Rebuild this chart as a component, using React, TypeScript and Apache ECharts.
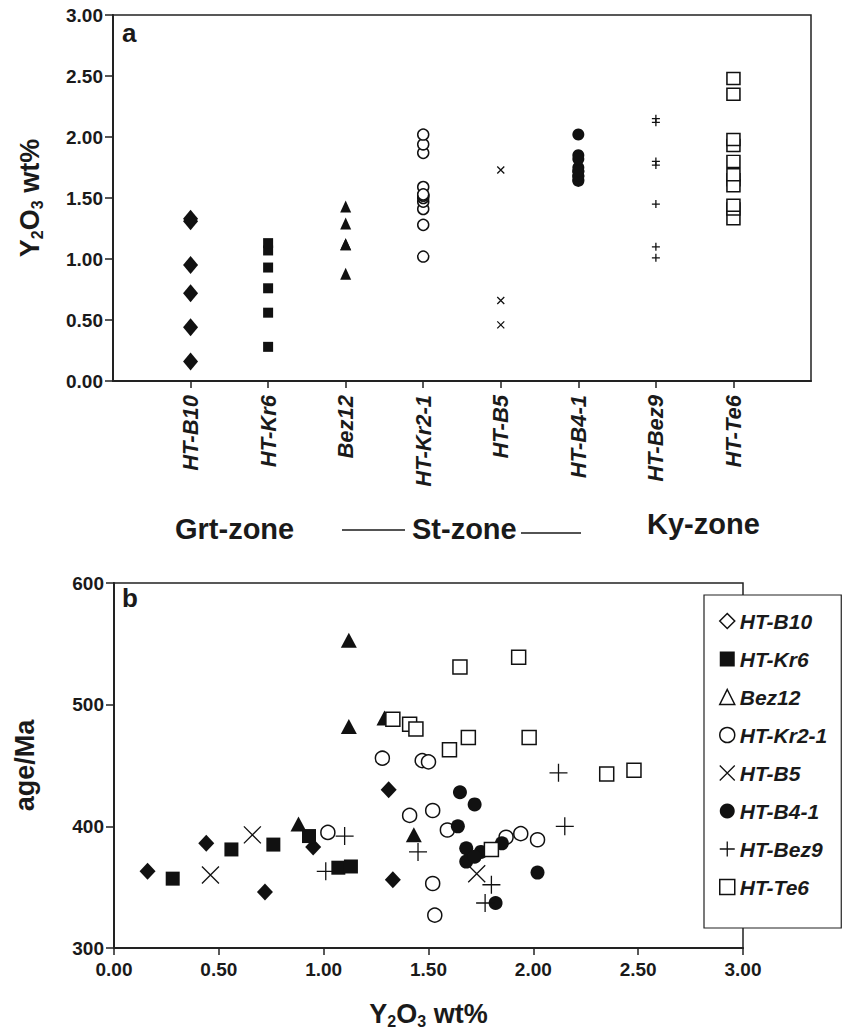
import React, { useEffect, useRef } from 'react';
import * as echarts from 'echarts';

const FONT = '"Liberation Sans", Arial, Helvetica, sans-serif';
const INK = '#1a1a1a';

const categories = ['HT-B10', 'HT-Kr6', 'Bez12', 'HT-Kr2-1', 'HT-B5', 'HT-B4-1', 'HT-Bez9', 'HT-Te6'];

// Y2O3 wt% and age (Ma) of each analysed grain, per sample
const b10Y2O3 = [0.16, 0.44, 0.72, 0.95, 1.31, 1.33];
const b10Age = [363, 386, 346, 383, 430, 356];

const kr6Y2O3 = [0.28, 0.56, 0.76, 0.93, 1.07, 1.13];
const kr6Age = [357, 381, 385, 392, 366, 367];

const bez12Y2O3 = [0.88, 1.12, 1.12, 1.29, 1.43];
const bez12Age = [402, 553, 482, 489, 393];

const kr21Y2O3 = [1.02, 1.28, 1.41, 1.47, 1.50, 1.52, 1.59, 1.52, 1.53, 1.87, 1.94, 2.02];
const kr21Age = [395, 456, 409, 454, 453, 413, 397, 353, 327, 391, 394, 389];

const b5Y2O3 = [0.46, 0.66, 1.73];
const b5Age = [360, 393, 361];

const b41Y2O3 = [1.65, 1.72, 1.64, 1.68, 1.75, 1.68, 1.72, 1.85, 2.02, 1.82];
const b41Age = [428, 418, 400, 382, 379, 371, 375, 386, 362, 337];

const bez9Y2O3 = [1.10, 1.01, 1.45, 1.80, 1.77, 2.15, 2.12];
const bez9Age = [392, 363, 379, 352, 337, 400, 444];

const te6Y2O3 = [1.33, 1.41, 1.44, 1.65, 1.93, 1.60, 1.69, 1.98, 2.35, 2.48, 1.80];
const te6Age = [488, 484, 480, 531, 539, 463, 473, 473, 443, 446, 381];

const X_PATH = 'path://M0,0L10,10M10,0L0,10';
const PLUS_PATH = 'path://M5,0L5,10M0,5L10,5';

const filled = { color: '#111', borderWidth: 0, opacity: 1 };
const open = { color: '#fff', borderColor: '#111', borderWidth: 1.5, opacity: 1 };
const stroke = { color: 'rgba(0,0,0,0)', borderColor: '#111', borderWidth: 1.3, opacity: 1 };

const samples = [
  { name: 'HT-B10', y: b10Y2O3, age: b10Age, symbol: 'diamond', style: filled, top: [15, 18], bot: [16, 17],
    legendIcon: 'diamond', legendStyle: open },
  { name: 'HT-Kr6', y: kr6Y2O3, age: kr6Age, symbol: 'rect', style: filled, top: [10, 10], bot: [14, 14],
    legendIcon: 'rect', legendStyle: filled },
  { name: 'Bez12', y: bez12Y2O3, age: bez12Age, symbol: 'triangle', style: filled, top: [11, 12], bot: [16, 15],
    legendIcon: 'triangle', legendStyle: open },
  { name: 'HT-Kr2-1', y: kr21Y2O3, age: kr21Age, symbol: 'circle', style: open, top: [11, 11], bot: [14, 14],
    legendIcon: 'circle', legendStyle: open },
  { name: 'HT-B5', y: b5Y2O3, age: b5Age, symbol: X_PATH, style: stroke, top: [7, 7], bot: [17, 17],
    legendIcon: X_PATH, legendStyle: stroke },
  { name: 'HT-B4-1', y: b41Y2O3, age: b41Age, symbol: 'circle', style: filled, top: [12, 12], bot: [14, 14],
    legendIcon: 'circle', legendStyle: filled },
  { name: 'HT-Bez9', y: bez9Y2O3, age: bez9Age, symbol: PLUS_PATH, style: stroke, top: [8, 8], bot: [18, 18],
    legendIcon: PLUS_PATH, legendStyle: stroke },
  { name: 'HT-Te6', y: te6Y2O3, age: te6Age, symbol: 'rect', style: open, top: [13, 12], bot: [14, 14],
    legendIcon: 'rect', legendStyle: open },
];

const tickLabel = { fontFamily: FONT, fontSize: 19, fontWeight: 'bold', color: INK };
const axisLine = { show: true, lineStyle: { color: '#222', width: 2 } };
const axisTick = { show: true, length: 7, lineStyle: { color: '#222', width: 1.5 } };

const richName = {
  a: { fontFamily: FONT, fontSize: 27, fontWeight: 'bold', color: INK, lineHeight: 30 },
  s: { fontFamily: FONT, fontSize: 16, fontWeight: 'bold', color: INK, lineHeight: 15, verticalAlign: 'bottom' },
};

function buildOption() {
  const topSeries = samples.map((s, i) => ({
    type: 'scatter',
    name: s.name,
    xAxisIndex: 0,
    yAxisIndex: 0,
    symbol: s.symbol,
    symbolSize: s.top,
    itemStyle: s.style,
    emphasis: { disabled: true },
    data: s.y.map((v) => [i + 1, v]),
  }));
  const botSeries = samples.map((s) => ({
    type: 'scatter',
    name: s.name,
    xAxisIndex: 1,
    yAxisIndex: 1,
    symbol: s.symbol,
    symbolSize: s.bot,
    itemStyle: s.style,
    emphasis: { disabled: true },
    data: s.y.map((v, k) => [v, s.age[k]]),
  }));

  return {
    animation: false,
    backgroundColor: '#fff',
    grid: [
      { left: 113, top: 15, width: 698, height: 366, show: true, borderColor: '#222', borderWidth: 1.5, backgroundColor: 'transparent' },
      { left: 114, top: 583, width: 629, height: 365, show: true, borderColor: '#222', borderWidth: 1.5, backgroundColor: 'transparent' },
    ],
    xAxis: [
      {
        type: 'category',
        gridIndex: 0,
        data: ['', ...categories, ''],
        boundaryGap: false,
        axisLine,
        axisTick: { ...axisTick, interval: (i: number) => i > 0 && i < categories.length + 1 },
        axisLabel: {
          interval: 0,
          rotate: 90,
          margin: 14,
          fontFamily: FONT,
          fontSize: 22,
          fontWeight: 'bold',
          fontStyle: 'italic',
          color: INK,
        },
        splitLine: { show: false },
      },
      {
        type: 'value',
        gridIndex: 1,
        min: 0,
        max: 3,
        interval: 0.5,
        axisLine,
        axisTick,
        axisLabel: { ...tickLabel, margin: 12, formatter: (v: number) => v.toFixed(2) },
        splitLine: { show: false },
        name: '{a|Y}{s|2}{a|O}{s|3}{a| wt%}',
        nameLocation: 'middle',
        nameGap: 51,
        nameTextStyle: { rich: richName },
      },
    ],
    yAxis: [
      {
        type: 'value',
        gridIndex: 0,
        min: 0,
        max: 3,
        interval: 0.5,
        axisLine,
        axisTick: { ...axisTick, length: 8 },
        axisLabel: { ...tickLabel, margin: 10, formatter: (v: number) => v.toFixed(2) },
        splitLine: { show: false },
        name: '{a|Y}{s|2}{a|O}{s|3}{a| wt%}',
        nameLocation: 'middle',
        nameRotate: 90,
        nameGap: 68,
        nameTextStyle: { rich: richName },
      },
      {
        type: 'value',
        gridIndex: 1,
        min: 300,
        max: 600,
        interval: 100,
        axisLine,
        axisTick: { ...axisTick, length: 8 },
        axisLabel: { ...tickLabel, margin: 10 },
        splitLine: { show: false },
        name: 'age/Ma',
        nameLocation: 'middle',
        nameRotate: 90,
        nameGap: 76,
        nameTextStyle: { fontFamily: FONT, fontSize: 27, fontWeight: 'bold', color: INK },
      },
    ],
    legend: {
      orient: 'vertical',
      left: 704,
      top: 595,
      padding: [15, 14, 30, 15],
      itemGap: 16,
      itemWidth: 15,
      itemHeight: 15,
      selectedMode: false,
      backgroundColor: '#fff',
      borderColor: '#222',
      borderWidth: 1.2,
      textStyle: { fontFamily: FONT, fontSize: 21, fontWeight: 'bold', fontStyle: 'italic', color: INK, lineHeight: 22 },
      data: samples.map((s) => ({ name: s.name, icon: s.legendIcon, itemStyle: s.legendStyle })),
    },
    graphic: [
      { type: 'text', x: 122, y: 33, style: { text: 'a', fill: INK, fontFamily: FONT, fontSize: 26, fontWeight: 'bold', textVerticalAlign: 'middle' } },
      { type: 'text', x: 122, y: 598, style: { text: 'b', fill: INK, fontFamily: FONT, fontSize: 26, fontWeight: 'bold', textVerticalAlign: 'middle' } },
      { type: 'text', x: 175, y: 529, style: { text: 'Grt-zone', fill: INK, fontFamily: FONT, fontSize: 29, fontWeight: 'bold', textVerticalAlign: 'middle' } },
      { type: 'text', x: 412, y: 529, style: { text: 'St-zone', fill: INK, fontFamily: FONT, fontSize: 29, fontWeight: 'bold', textVerticalAlign: 'middle' } },
      { type: 'text', x: 647, y: 524, style: { text: 'Ky-zone', fill: INK, fontFamily: FONT, fontSize: 29, fontWeight: 'bold', textVerticalAlign: 'middle' } },
      { type: 'line', shape: { x1: 342, y1: 530, x2: 405, y2: 530 }, style: { stroke: INK, lineWidth: 1.5 } },
      { type: 'line', shape: { x1: 521, y1: 533, x2: 581, y2: 533 }, style: { stroke: INK, lineWidth: 1.5 } },
    ],
    series: [...topSeries, ...botSeries],
  };
}

export default function App() {
  const ref = useRef<HTMLDivElement>(null);
  useEffect(() => {
    if (!ref.current) return;
    const chart = echarts.init(ref.current, null, { renderer: 'svg' });
    chart.setOption(buildOption() as any);
    return () => chart.dispose();
  }, []);
  return <div ref={ref} style={{ position: 'absolute', left: 0, top: 0, width: 846, height: 1036 }} />;
}
